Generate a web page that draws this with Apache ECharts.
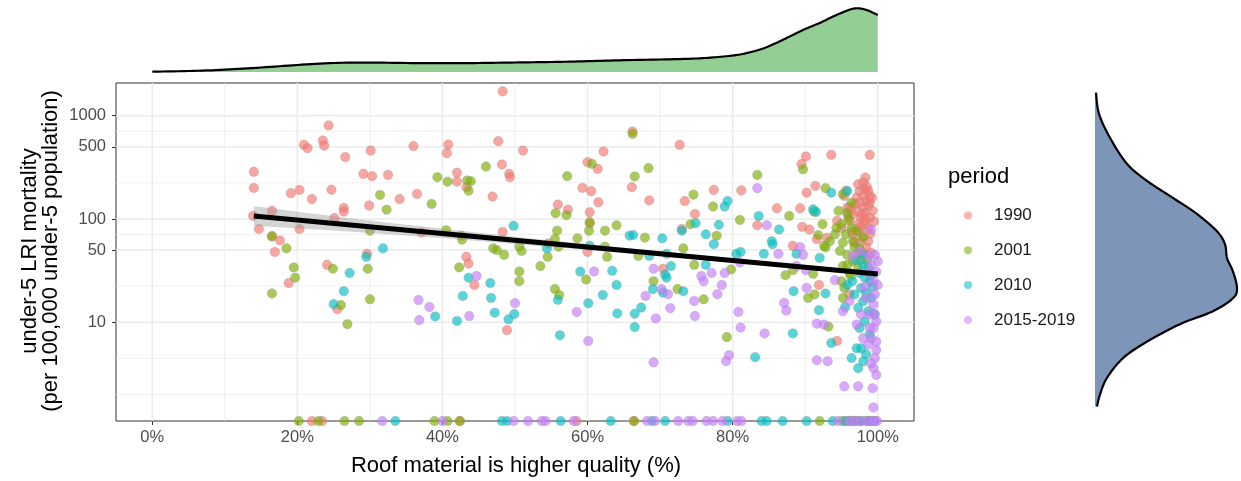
<!DOCTYPE html>
<html>
<head>
<meta charset="utf-8">
<script src="https://cdn.jsdelivr.net/npm/echarts@6/dist/echarts.min.js"></script>
<style>
html, body { margin: 0; padding: 0; background: #ffffff; }
#chart { width: 1241px; height: 481px; }
</style>
</head>
<body>
<div id="chart"></div>
<script>
// ---- data -------------------------------------------------------------
const periods = ['1990', '2001', '2010', '2015-2019'];
const periodColors = ['#F8766D', '#7CAE00', '#00BFC4', '#C77CFF'];

// [roof quality %, under-5 LRI mortality]; 0 = no deaths recorded
const pts1990 = [
  [14.0,286],[14.0,200],[13.9,107],[14.7,80],
  [24.3,805],[20.9,523],[21.4,485],[23.5,575],[23.7,513],[26.6,398],[30.1,460],[29.1,274],[30.3,260],
  [19.1,178],[20.3,191],[22.0,156],[24.7,192],[29.9,135],[16.5,120],[26.4,128],[26.4,118],[25.1,102],
  [20.3,80],[16.5,68],[17.6,62],[16.9,48],[29.6,46],[24.1,36],[18.8,24],[25.5,13.4],
  [48.3,1720],[36.0,508],[40.8,526],[40.6,434],[47.7,567],[32.5,267],[42.0,280],[42.0,230],[43.3,203],
  [48.2,337],[49.2,274],[49.3,254],[34.1,156],[36.5,175],[46.9,165],[37.1,74],[48.3,75],[43.3,43],
  [43.6,37],[44.4,23],[48.9,8.4],
  [51.1,460],[62.2,450],[60.0,355],[61.4,306],[59.3,200],[60.5,186],[61.5,145],[55.9,138],[57.3,123],
  [60.3,116],[60.3,91],[54.6,58],[60.0,48],
  [66.2,703],[72.7,523],[66.1,203],[68.5,151],[73.4,149],[77.4,191],[81.2,189],[74.8,112],[73.0,80],[70.4,33],
  [83.4,87],[86.1,127],[89.3,127],[90.1,402],[89.5,340],[93.6,418],[98.9,418],[98.3,252],[91.4,209],
  [90.2,180],[89.6,84],[90.6,79],[88.3,55],[93.0,66],[91.6,64],[91.9,23],[94.4,6.6],
  [97.5,187],[98.2,194],[98.7,187],[98.9,167],[98.0,167],[97.1,161],[98.4,150],[97.5,144],[98.7,134],
  [98.0,129],[97.1,120],[98.2,115],[98.9,103],[97.7,103],[98.2,89],[97.3,89],[98.7,82],[97.5,76],
  [96.6,71],[98.0,68],[98.7,61],[97.5,61],[96.8,59],[98.4,53],[99.1,47],[98.0,47],[96.1,96],[95.4,167],
  [95.6,187],[95.8,129],[94.4,96],[96.4,76],[95.0,82],[96.6,111],[98.9,144],[97.3,217],[98.0,226],
  [98.5,205],[96.1,18.6],[99.3,120],[99.5,95],[96.9,140],[97.9,110],[99.0,72],[96.2,130],[97.6,84],
  [98.3,98],[99.2,160],[95.9,108],
  [22.0,0],[23.4,0],[42.4,0],[58.5,0],[66.4,0],[95.8,0],[97.0,0],[98.4,0]
];
const pts2001 = [
  [16.5,68],[18.5,52],[30.0,77],[31.4,171],[32.3,123],[24.9,33],[29.7,33],[19.5,34],[19.7,27],[16.5,19],
  [26.0,14.7],[30.0,16.7],[26.9,9.6],
  [39.3,254],[40.7,230],[43.4,236],[43.9,232],[43.6,188],[46.0,322],[38.5,140],[40.5,78],[42.6,69],
  [42.7,63],[47.0,52],[47.5,50],[48.5,45],[42.3,34],
  [60.6,342],[57.2,260],[55.6,114],[57.1,109],[60.3,93],[55.8,77],[60.2,77],[62.4,77],[64.0,87],[55.5,64],
  [58.6,65],[56.0,54],[62.4,54],[62.7,43],[50.6,54],[50.9,49],[54.5,43],[53.5,35],[50.6,31],[50.6,25],
  [59.8,26],[55.5,21],[56.1,18.4],
  [66.2,668],[68.4,311],[66.5,258],[74.6,172],[77.3,132],[74.2,89],[81.0,98],[77.8,69],[67.9,66],[73.2,52],
  [67.0,44],[74.7,36],[79.8,32.5],[69.1,25],[72.4,21],[76.0,16.7],[79.2,7.2],
  [83.4,267],[87.8,107],[89.7,303],[92.8,199],[91.2,118],[92.4,89],[92.6,55],[91.8,70],[87.3,28.6],
  [88.3,32],[91.1,29.5],[90.4,17.2],[91.3,18.6],[93.2,9.1],
  [95.2,174],[96.4,144],[95.8,115],[95.0,89],[95.6,71],[96.6,61],[95.2,59],[96.8,53],[95.8,45],[95.2,35],
  [96.6,39],[97.3,34],[96.1,30],[95.0,25],[95.4,21.5],[95.2,17.2],[97.1,45],[97.7,40.5],[94.1,71],[94.3,82],
  [93.4,61],[92.8,53],[96.4,82],[94.8,49],[95.8,36],[98.0,66],[97.1,76],[96.0,100],[94.6,120],[97.5,52],
  [96.3,28],[98.5,40],
  [20.2,0],[22.9,0],[26.5,0],[28.5,0],[38.9,0],[40.7,0],[42.4,0],[66.4,0],[92.0,0],[95.1,0],[96.2,0],
  [97.4,0],[98.8,0]
];
const pts2010 = [
  [31.8,52],[29.5,43],[27.2,30],[26.4,20],[25.0,15],
  [43.6,27],[46.6,24],[42.8,18],[46.7,17.2],[47.2,12.4],[42.0,10.3],[39.0,11.4],
  [49.8,86],[54.4,52],[60.3,55],[59.0,31],[63.4,31.5],[64.0,23],[55.9,16.5],[62.1,18.4],[60.1,15.3],
  [64.1,12.2],[49.9,12],[49.1,10.7],[56.2,7.5],
  [78.9,132],[79.3,149],[74.9,91],[73.0,77],[78.1,88],[76.3,71],[77.4,57],[65.8,69],[66.3,70],[70.3,65],
  [68.5,44],[70.9,46],[71.5,35],[76.3,36],[80.5,46],[81.1,48],[70.7,29],[70.9,27],[69.0,21],[70.4,19.4],
  [73.2,20],[67.4,13.9],[66.5,12.1],[66.5,9],
  [83.6,107],[86.4,79],[91.1,124],[91.5,117],[93.6,180],[85.4,61],[85.5,57],[84.3,46],[88.8,46],[92.0,42],
  [88.4,20],[92.8,19],[91.9,13.1],[88.3,7.8],[93.6,6.3],[83.1,4.6],
  [95.8,187],[98.0,36],[98.7,34],[97.5,30],[98.2,27],[98.9,25],[97.7,21.5],[98.4,19.2],[99.1,17.2],[98.0,16],
  [97.3,13.8],[98.7,12.8],[98.2,10.2],[97.5,8.8],[98.9,7.6],[97.7,5.6],[98.4,4.9],[98.0,4.2],[97.3,3.6],
  [96.4,4.5],[97.1,5.6],[99.1,29],[98.0,45],[96.8,18.6],[95.8,23],[96.5,25],[99.3,22],[97.0,40],[95.5,14],
  [99.5,12],
  [33.5,0],[48.2,0],[48.9,0],[56.3,0],[63.2,0],[68.9,0],[70.7,0],[79.3,0],[84.0,0],[84.7,0],[86.9,0],
  [90.2,0],[93.8,0],[95.5,0],[96.6,0],[97.8,0],[98.9,0],[99.6,0]
];
const pts2015 = [
  [44.7,28],[43.7,11.5],[36.7,16.4],[38.2,14.1],[36.8,10.5],
  [60.9,31],[58.5,12.6],[50.0,15.3],[60.1,6.6],
  [81.0,38],[69.1,33],[75.7,28],[76.0,25],[77.1,30],[78.9,30],[78.5,23],[77.9,18.7],[70.2,21],[71.1,18.7],
  [74.7,16.1],[68.0,18],[71.4,13.7],[69.4,10.9],[74.8,11.5],[80.8,12.6],[81.1,8.9],[79.5,4.8],[79.1,4.2],
  [69.1,4.1],
  [83.4,199],[84.7,87],[86.3,46],[89.3,53.5],[89.7,45],[88.8,35],[90.1,32],[90.2,21.5],[94.1,25.6],
  [87.1,15.4],[87.4,13],[91.6,9.7],[92.6,9.5],[84.4,7.8],[91.6,4.3],[93.1,4.2],[95.4,2.4],[97.3,2.4],
  [99.3,2.3],[99.4,1.5],
  [99.1,79],[99.8,31],[100.0,23],[99.6,18.6],[99.4,14.9],[98.9,11.9],[99.8,10.2],[99.4,8.8],[99.1,7.0],
  [99.8,6.5],[98.7,6.1],[99.6,4.5],[99.1,4.0],[99.8,3.1],[98.4,17.2],[97.7,11.9],[97.1,9.5],[96.1,16],
  [95.2,12.8],[98.7,30],[99.4,25],[98.2,22],[99.6,11.9],[98.9,8.8],[100.0,39],[99.6,45],[97.5,49],
  [96.6,44],[98.7,44],[99.1,36],[98.0,7.0],[99.8,5.4],[99.4,3.6],
  [31.7,0],[40.0,0],[49.8,0],[51.8,0],[53.7,0],[54.2,0],[58.1,0],[68.2,0],[69.3,0],[72.5,0],[73.9,0],
  [74.5,0],[76.4,0],[77.3,0],[78.6,0],[80.6,0],[81.2,0],[94.5,0],[96.0,0],[96.8,0],[97.6,0],[98.5,0],
  [99.2,0],[99.5,0],[99.9,0]
];
const periodPoints = [pts1990, pts2001, pts2010, pts2015];

// linear fit on the log scale, with its confidence band
const fitX = [14, 100];
const fitY = [107, 29.3];
const bandX  = [14, 30, 50, 70, 90, 100];
const bandLo = [86, 73.3, 57.4, 43.5, 32.5, 27.7];
const bandHi = [133, 96.6, 67.5, 48.8, 35.6, 31.0];

// marginal densities
const topDensX = [0, 5, 10, 15, 20, 25, 30, 35, 40, 45, 50, 55, 60, 65, 70, 75, 78, 81, 84, 86, 88, 90, 92, 94, 96, 97, 98, 99, 100];
const topDensH = [0.3, 1, 2.3, 4.5, 7, 9, 9.4, 9, 8.8, 9, 9.5, 10, 10.8, 11.8, 12.5, 13.5, 15, 17.5, 23, 29, 36, 43, 49, 56, 62, 63.7, 63, 60.5, 57];
const rightDensY = [1670, 1045, 611, 342, 234, 160, 112, 76, 57, 42, 31, 21.4, 17.1, 12.8, 9.6, 6.5, 4.5, 2.9, 2.0, 1.53];
const rightDensW = [1, 4, 15, 32, 52, 78, 102, 122, 130, 132, 138, 142, 138, 118, 85, 52, 28, 12, 5, 2];

// axes
const xTicks = [0, 20, 40, 60, 80, 100];
const xMinorGrid = [10, 30, 50, 70, 90];
const yTicks = [10, 50, 100, 500, 1000];
const yMinorGrid = [2, 4.47, 22.4, 70.7, 224, 707];
const X_MIN = -5, X_MAX = 105;
const Y_MIN = 1.108, Y_MAX = 2073;

// ---- helpers ------------------------------------------------------------
const FONT = '"Liberation Sans", Arial, Helvetica, sans-serif';

// Catmull-Rom smoothing of pixel points, used to draw density outlines
function spline(pts, seg) {
  const out = [];
  const n = pts.length;
  for (let i = 0; i < n - 1; i++) {
    const p0 = pts[Math.max(i - 1, 0)], p1 = pts[i], p2 = pts[i + 1], p3 = pts[Math.min(i + 2, n - 1)];
    for (let t = 0; t < seg; t++) {
      const s = t / seg, s2 = s * s, s3 = s2 * s;
      const f = k => 0.5 * (2 * p1[k] + (-p0[k] + p2[k]) * s +
        (2 * p0[k] - 5 * p1[k] + 4 * p2[k] - p3[k]) * s2 +
        (-p0[k] + 3 * p1[k] - 3 * p2[k] + p3[k]) * s3);
      out.push([f(0), f(1)]);
    }
  }
  out.push(pts[n - 1]);
  return out;
}

function gridLineSeries(values, vertical, width) {
  return {
    type: 'custom', xAxisIndex: 0, yAxisIndex: 0, silent: true, z: 1,
    data: values.map(v => vertical ? [v, 10] : [0, v]),
    renderItem: (params, api) => {
      const cs = params.coordSys;
      if (vertical) {
        const x = api.coord([api.value(0), 10])[0];
        return { type: 'line', shape: { x1: x, y1: cs.y, x2: x, y2: cs.y + cs.height },
          style: { stroke: '#EBEBEB', lineWidth: width } };
      }
      const y = api.coord([0, api.value(1)])[1];
      return { type: 'line', shape: { x1: cs.x, y1: y, x2: cs.x + cs.width, y2: y },
        style: { stroke: '#EBEBEB', lineWidth: width } };
    }
  };
}

// ---- chart --------------------------------------------------------------
const chart = echarts.init(document.getElementById('chart'), null, { renderer: 'canvas' });

const scatterSeries = periods.map((p, i) => ({
  name: p,
  type: 'scatter',
  xAxisIndex: 0, yAxisIndex: 0,
  clip: false,
  z: 3,
  symbol: 'circle',
  symbolSize: 9.5,
  itemStyle: { color: periodColors[i], opacity: 0.66, borderColor: 'rgba(150,150,150,0.5)', borderWidth: 1 },
  // zero counts sit on the lower panel edge
  data: periodPoints[i].map(d => [d[0], d[1] > 0 ? d[1] : Y_MIN]),
  silent: true
}));

const option = {
  animation: false,
  backgroundColor: '#ffffff',
  textStyle: { fontFamily: FONT },
  grid: [
    { left: 116, top: 83, width: 798, height: 338, show: true, borderColor: '#333333', borderWidth: 1, backgroundColor: 'transparent' },
    { left: 116, top: 8, width: 798, height: 64 },
    { left: 1095, top: 83, width: 146, height: 338 }
  ],
  xAxis: [
    {
      type: 'value', gridIndex: 0, min: X_MIN, max: X_MAX,
      axisLine: { show: false, onZero: false },
      splitLine: { show: false },
      axisTick: { show: true, customValues: xTicks, length: 4, lineStyle: { color: '#333333', width: 1 } },
      axisLabel: { customValues: xTicks, formatter: v => v + '%', color: '#4D4D4D', fontSize: 16.5, fontFamily: FONT, margin: 8 }
    },
    { type: 'value', gridIndex: 1, min: X_MIN, max: X_MAX, show: false },
    { type: 'value', gridIndex: 2, min: 0, max: 146, show: false }
  ],
  yAxis: [
    {
      type: 'log', logBase: 10, gridIndex: 0, min: Y_MIN, max: Y_MAX,
      axisLine: { show: false, onZero: false },
      splitLine: { show: false },
      minorSplitLine: { show: false },
      axisTick: { show: true, customValues: yTicks, length: 4, lineStyle: { color: '#333333', width: 1 } },
      axisLabel: { customValues: yTicks, formatter: v => String(Math.round(v)), color: '#4D4D4D', fontSize: 16.5, fontFamily: FONT, margin: 10 }
    },
    { type: 'value', gridIndex: 1, min: 0, max: 64, show: false },
    { type: 'log', logBase: 10, gridIndex: 2, min: Y_MIN, max: Y_MAX, show: false }
  ],
  legend: {
    data: periods,
    orient: 'vertical',
    left: 959, top: 202,
    icon: 'circle',
    itemWidth: 8, itemHeight: 8,
    itemGap: 17.8,
    itemStyle: { opacity: 0.55, borderWidth: 0 },
    textStyle: { fontSize: 17, color: '#1A1A1A', fontFamily: FONT, padding: [0, 0, 0, 17], lineHeight: 16 },
    selectedMode: false
  },
  graphic: [
    { type: 'text', left: 948, top: 166, style: { text: 'period', font: '22px ' + FONT, fill: '#000000' } },
    { type: 'text', x: 516, y: 466, style: { text: 'Roof material is higher quality (%)', font: '22px ' + FONT, fill: '#000000', textAlign: 'center', textVerticalAlign: 'middle' } },
    { type: 'text', x: 30, y: 251, rotation: Math.PI / 2, style: { text: 'under-5 LRI mortality', font: '22px ' + FONT, fill: '#000000', textAlign: 'center', textVerticalAlign: 'middle' } },
    { type: 'text', x: 51, y: 251, rotation: Math.PI / 2, style: { text: '(per 100,000 under-5 population)', font: '22px ' + FONT, fill: '#000000', textAlign: 'center', textVerticalAlign: 'middle' } }
  ],
  series: [
    gridLineSeries(xMinorGrid, true, 0.8),
    gridLineSeries(yMinorGrid, false, 0.8),
    gridLineSeries(xTicks, true, 1.5),
    gridLineSeries(yTicks, false, 1.5),
    ...scatterSeries,
    {
      // confidence band of the fit
      type: 'custom', xAxisIndex: 0, yAxisIndex: 0, silent: true, z: 4,
      data: [[bandX[0], bandLo[0]]],
      renderItem: (params, api) => {
        const up = bandX.map((x, i) => api.coord([x, bandHi[i]]));
        const lo = bandX.map((x, i) => api.coord([x, bandLo[i]])).reverse();
        return { type: 'polygon', shape: { points: spline(up, 6).concat(spline(lo, 6)) },
          style: { fill: 'rgba(153,153,153,0.42)' } };
      }
    },
    {
      type: 'line', xAxisIndex: 0, yAxisIndex: 0, silent: true, z: 5,
      symbol: 'none',
      data: fitX.map((x, i) => [x, fitY[i]]),
      lineStyle: { color: '#000000', width: 5, cap: 'butt' }
    },
    {
      // top marginal density of roof quality
      type: 'custom', xAxisIndex: 1, yAxisIndex: 1, silent: true, z: 2,
      data: [[topDensX[0], topDensH[0]]],
      renderItem: (params, api) => {
        const pts = spline(topDensX.map((x, i) => api.coord([x, topDensH[i]])), 8);
        const b0 = api.coord([topDensX[0], 0]);
        const b1 = api.coord([topDensX[topDensX.length - 1], 0]);
        return { type: 'group', children: [
          { type: 'polygon', shape: { points: [b0].concat(pts, [b1]) }, style: { fill: '#93CF93' } },
          { type: 'polyline', shape: { points: pts }, style: { stroke: '#000000', lineWidth: 2.2, fill: null } }
        ] };
      }
    },
    {
      // right marginal density of mortality
      type: 'custom', xAxisIndex: 2, yAxisIndex: 2, silent: true, z: 2,
      data: [[0, rightDensY[0]]],
      renderItem: (params, api) => {
        const pts = spline(rightDensW.map((w, i) => api.coord([w, rightDensY[i]])), 8);
        const b0 = api.coord([0, rightDensY[0]]);
        const b1 = api.coord([0, rightDensY[rightDensY.length - 1]]);
        return { type: 'group', children: [
          { type: 'polygon', shape: { points: [b0].concat(pts, [b1]) }, style: { fill: '#7D95B9' } },
          { type: 'polyline', shape: { points: pts }, style: { stroke: '#000000', lineWidth: 2.2, fill: null } }
        ] };
      }
    }
  ]
};

chart.setOption(option);
</script>
</body>
</html>
